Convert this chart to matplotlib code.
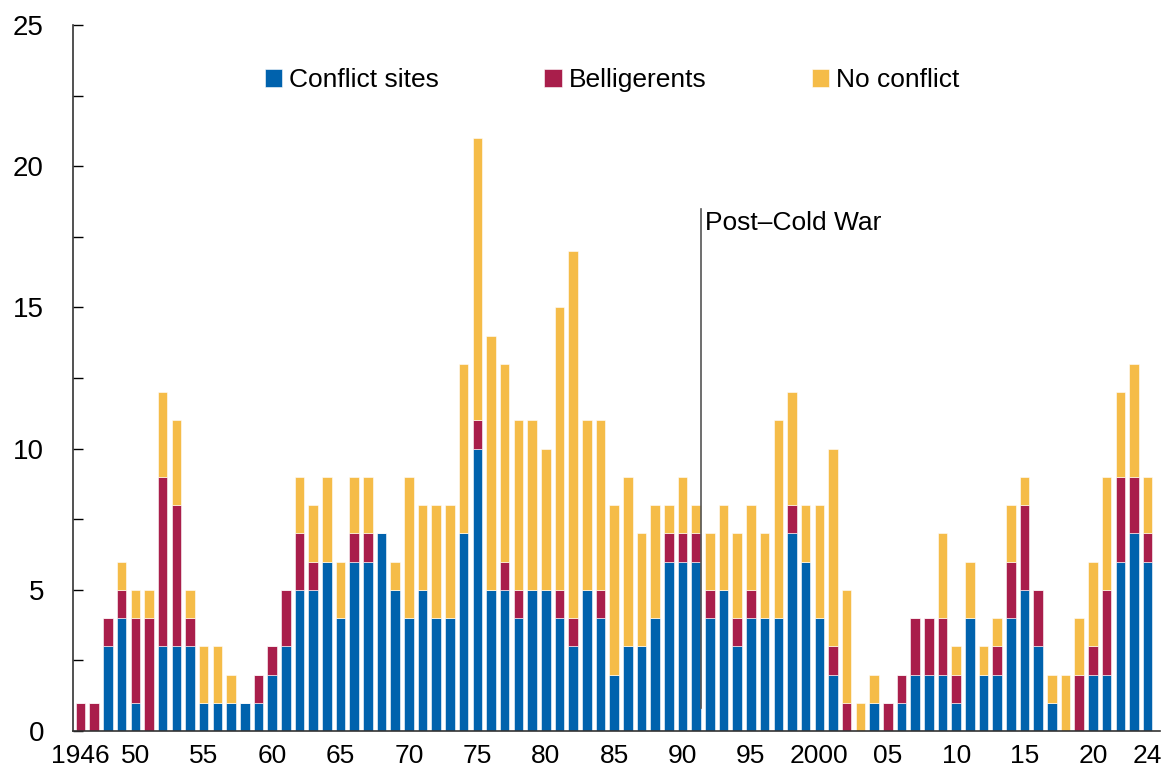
import numpy as np
import matplotlib.pyplot as plt
from matplotlib.ticker import MultipleLocator

years = np.arange(1946, 2025)

conflict_sites = [0, 0, 3, 4, 1, 0, 3, 3, 3, 1, 1, 1, 1, 1, 2, 3, 5, 5, 6, 4,
                  6, 6, 7, 5, 4, 5, 4, 4, 7, 10, 5, 5, 4, 5, 5, 4, 3, 5, 4, 2,
                  3, 3, 4, 6, 6, 6, 4, 5, 3, 4, 4, 4, 7, 6, 4, 2, 0, 0, 1, 0,
                  1, 2, 2, 2, 1, 4, 2, 2, 4, 5, 3, 1, 0, 0, 2, 2, 6, 7, 6]
belligerents = [1, 1, 1, 1, 3, 4, 6, 5, 1, 0, 0, 0, 0, 1, 1, 2, 2, 1, 0, 0,
                1, 1, 0, 0, 0, 0, 0, 0, 0, 1, 0, 1, 1, 0, 0, 1, 1, 0, 1, 0,
                0, 0, 0, 1, 1, 1, 1, 0, 1, 1, 0, 0, 1, 0, 0, 1, 1, 0, 0, 1,
                1, 2, 2, 2, 1, 0, 0, 1, 2, 3, 2, 0, 0, 2, 1, 3, 3, 2, 1]
no_conflict = [0, 0, 0, 1, 1, 1, 3, 3, 1, 2, 2, 1, 0, 0, 0, 0, 2, 2, 3, 2,
               2, 2, 0, 1, 5, 3, 4, 4, 6, 10, 9, 7, 6, 6, 5, 10, 13, 6, 6, 6,
               6, 4, 4, 1, 2, 1, 2, 3, 3, 3, 3, 7, 4, 2, 4, 7, 4, 1, 1, 0,
               0, 0, 0, 3, 1, 2, 1, 1, 2, 1, 0, 1, 2, 2, 3, 4, 3, 4, 2]

tick_years = [1946, 1950, 1955, 1960, 1965, 1970, 1975, 1980, 1985, 1990,
              1995, 2000, 2005, 2010, 2015, 2020, 2024]
tick_labels = ["1946", "50", "55", "60", "65", "70", "75", "80", "85", "90",
               "95", "2000", "05", "10", "15", "20", "24"]

blue = "#0062ad"
red = "#a91e4b"
yellow = "#f5bc48"

plt.rcParams['font.family'] = ['Liberation Sans', 'DejaVu Sans']

fig = plt.figure(figsize=(11.65, 7.77), dpi=100)
ax = fig.add_axes([0.0627, 0.0592, 0.933, 0.9086])

c = np.array(conflict_sites)
b = np.array(belligerents)
n = np.array(no_conflict)
w = 0.7
ax.bar(years, c, width=w, color=blue, edgecolor="white", linewidth=0.4, label="Conflict sites")
ax.bar(years, b, width=w, bottom=c, color=red, edgecolor="white", linewidth=0.4, label="Belligerents")
ax.bar(years, n, width=w, bottom=c + b, color=yellow, edgecolor="white", linewidth=0.4, label="No conflict")

# Post-Cold War marker
ax.plot([1991.35, 1991.35], [0.8, 18.5], color="#555555", linewidth=1.2)
ax.text(1991.65, 18.0, "Post\u2013Cold War", fontsize=19, va="center", ha="left")

ax.set_xlim(1945.45, 2024.9)
ax.set_ylim(0, 25)
ax.yaxis.set_major_locator(MultipleLocator(5))
ax.yaxis.set_minor_locator(MultipleLocator(2.5))
ax.tick_params(axis="y", direction="in", length=7, width=1, labelsize=20, pad=21, which="major")
ax.tick_params(axis="y", direction="in", length=7, width=1, which="minor")
ax.set_xticks(tick_years)
ax.set_xticklabels(tick_labels)
ax.tick_params(axis="x", length=0, labelsize=19, pad=9)

for s in ["top", "right"]:
    ax.spines[s].set_visible(False)
for s in ["left", "bottom"]:
    ax.spines[s].set_color("#333333")
    ax.spines[s].set_linewidth(1.2)

ax.legend(loc="center", bbox_to_anchor=(0.496, 0.922), ncol=3, frameon=False,
          fontsize=19, handlelength=0.65, handleheight=0.65, handletextpad=0.27,
          columnspacing=4.0, borderpad=0)

fig.savefig("out.png", dpi=100)
